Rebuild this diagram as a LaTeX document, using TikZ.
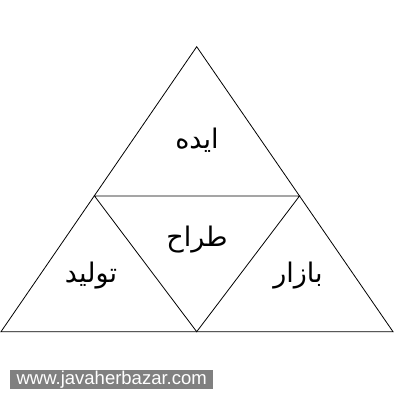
\documentclass[tikz,border=0pt]{standalone}
\usepackage{fontspec}
\setmainfont{Liberation Sans}
\newfontfamily\arabicfont[Script=Arabic]{DejaVu Sans}
\TeXXeTstate=1
\tikzset{
  edge/.style={draw=black, line width=0.8pt, line join=miter},
  lbl/.style={font=\arabicfont\fontsize{27}{30}\selectfont, inner sep=0pt},
}
\begin{document}
\begin{tikzpicture}[x=1pt,y=-1pt]
\useasboundingbox[fill=white] (0,0) rectangle (400,400);
\coordinate (A) at (196.7,46.7);
\coordinate (BL) at (1,331.7);
\coordinate (BR) at (393,331.7);
\coordinate (ML) at (94.5,196);
\coordinate (MR) at (299.5,196);
\coordinate (BM) at (196.7,331.7);
\draw[edge] (A) -- (BL) -- (BR) -- cycle;
\draw[edge] (ML) -- (MR) -- (BM) -- cycle;
\node[lbl] (idea) at (197,140) {\beginR ایده\endR};
\node[lbl] (design) at (197,240) {\beginR طراح\endR};
\node[lbl] (prod) at (91,276) {\beginR تولید\endR};
\node[lbl] (market) at (298,276) {\beginR بازار\endR};
\node[fill=black!50, text=white, font=\fontsize{18.5}{20}\selectfont, minimum width=203pt, minimum height=19pt, inner sep=0pt, anchor=north west] (web) at (10,370) {www.javaherbazar.com};
\end{tikzpicture}
\end{document}
